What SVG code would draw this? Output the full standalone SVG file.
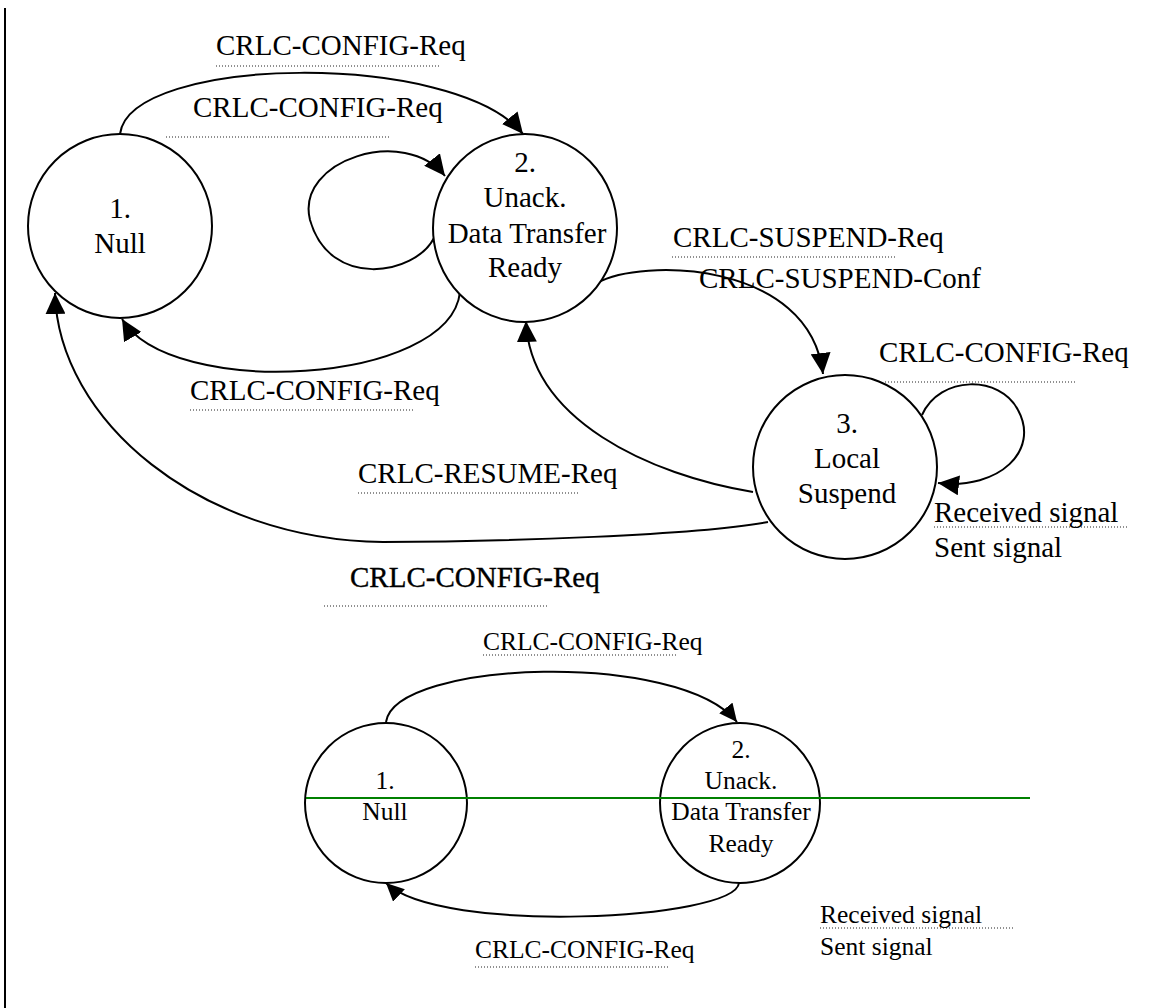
<svg xmlns="http://www.w3.org/2000/svg" width="1157" height="1008" viewBox="0 0 1157 1008">
  <defs>
    <style>
      .state { fill: #fff; stroke: #000; stroke-width: 2; }
      .edge { fill: none; stroke: #000; stroke-width: 2; }
      .t { font-family: "Liberation Serif", "Times New Roman", serif; font-size: 29px; fill: #000; }
      .ts { font-family: "Liberation Serif", "Times New Roman", serif; font-size: 25.5px; fill: #000; }
      .mid { text-anchor: middle; }
      .dots { stroke: #222; stroke-width: 1.2; stroke-dasharray: 1 2; fill: none; }
    </style>
    <marker id="arrow" markerUnits="userSpaceOnUse" markerWidth="22" markerHeight="20" refX="21" refY="10" orient="auto">
      <path d="M0,0 L21,10 L0,20 z" fill="#000"/>
    </marker>
    <marker id="arrowSmall" markerUnits="userSpaceOnUse" markerWidth="19" markerHeight="17" refX="18" refY="8.5" orient="auto">
      <path d="M0,0 L18,8.5 L0,17 z" fill="#000"/>
    </marker>
  </defs>

  <rect width="1157" height="1008" fill="#fff"/>

  <!-- page margin rule -->
  <line x1="5" y1="8" x2="5" y2="1008" stroke="#000" stroke-width="2"/>

  <!-- upper state machine: transitions -->
  <g id="connectors">
    <path class="edge" marker-end="url(#arrow)" d="M120,134 C130,55 455,50 523,134"/>
    <path class="edge" marker-end="url(#arrow)" d="M434,238 C415,275 330,290 310,220 C295,160 405,125 445,176"/>
    <path class="edge" marker-end="url(#arrow)" d="M460,292 C450,385 170,400 122,319"/>
    <path class="edge" marker-end="url(#arrow)" d="M597,283 C640,258 810,260 823,374"/>
    <path class="edge" marker-end="url(#arrow)" d="M753,492 C650,475 530,420 526,321"/>
    <path class="edge" marker-end="url(#arrow)" d="M768,522 C700,535 500,542 383,542 C200,540 58,420 55,293"/>
    <path class="edge" marker-end="url(#arrow)" d="M922,415 C940,375 1000,375 1018,410 C1040,450 1000,490 938,483"/>
    <!-- lower state machine: transitions -->
    <path class="edge" marker-end="url(#arrowSmall)" d="M386,722 C395,660 680,650 737,722"/>
    <path class="edge" marker-end="url(#arrowSmall)" d="M739,883 C735,920 440,935 386,883"/>
  </g>

  <!-- upper state machine: states -->
  <g id="state-null">
    <ellipse class="state" cx="120" cy="226" rx="92" ry="92"/>
    <text class="t mid" x="120" y="218">1.</text>
    <text class="t mid" x="120" y="253">Null</text>
  </g>
  <g id="state-unack-ready">
    <ellipse class="state" cx="525" cy="228" rx="92" ry="94"/>
    <text class="t mid" x="525" y="172">2.</text>
    <text class="t mid" x="525" y="207">Unack.</text>
    <text class="t mid" x="527" y="243">Data Transfer</text>
    <text class="t mid" x="525" y="277">Ready</text>
  </g>
  <g id="state-local-suspend">
    <ellipse class="state" cx="845" cy="467" rx="92" ry="92"/>
    <text class="t mid" x="847" y="433">3.</text>
    <text class="t mid" x="847" y="468">Local</text>
    <text class="t mid" x="847" y="503">Suspend</text>
  </g>

  <!-- upper state machine: signal labels -->
  <g id="labels">
    <text class="t" x="216" y="55">CRLC-CONFIG-Req</text>
    <line class="dots" x1="216" y1="66" x2="439" y2="66"/>
    <text class="t" x="193" y="117">CRLC-CONFIG-Req</text>
    <line class="dots" x1="166" y1="137" x2="389" y2="137"/>
    <text class="t" x="190" y="400">CRLC-CONFIG-Req</text>
    <line class="dots" x1="190" y1="410" x2="413" y2="410"/>
    <text class="t" x="358" y="483">CRLC-RESUME-Req</text>
    <line class="dots" x1="358" y1="493" x2="580" y2="493"/>
    <text class="t" x="350" y="587" stroke="#000" stroke-width="0.35">CRLC-CONFIG-Req</text>
    <line class="dots" x1="324" y1="606" x2="548" y2="606"/>
    <text class="t" x="673" y="247">CRLC-SUSPEND-Req</text>
    <line class="dots" x1="672" y1="257" x2="895" y2="257"/>
    <text class="t" x="699" y="288">CRLC-SUSPEND-Conf</text>
    <text class="t" x="879" y="362">CRLC-CONFIG-Req</text>
    <line class="dots" x1="885" y1="382" x2="1075" y2="382"/>
    <text class="t" x="934" y="522">Received signal</text>
    <line class="dots" x1="934" y1="527" x2="1128" y2="527"/>
    <text class="t" x="934" y="557">Sent signal</text>
  </g>

  <!-- lower state machine: states -->
  <g id="state-null-2">
    <ellipse class="state" cx="386" cy="803" rx="81" ry="80"/>
    <text class="ts mid" x="385" y="789">1.</text>
    <text class="ts mid" x="385" y="820">Null</text>
  </g>
  <g id="state-unack-ready-2">
    <ellipse class="state" cx="740" cy="803" rx="80" ry="80"/>
    <text class="ts mid" x="741" y="758">2.</text>
    <text class="ts mid" x="741" y="789">Unack.</text>
    <text class="ts mid" x="741" y="820">Data Transfer</text>
    <text class="ts mid" x="741" y="852">Ready</text>
  </g>

  <!-- lower state machine: reference line -->
  <line x1="306" y1="798" x2="1030" y2="798" stroke="#008000" stroke-width="2"/>

  <!-- lower state machine: signal labels -->
  <g id="labels-2">
    <text class="ts" x="483" y="650">CRLC-CONFIG-Req</text>
    <line class="dots" x1="483" y1="655" x2="677" y2="655"/>
    <text class="ts" x="475" y="958">CRLC-CONFIG-Req</text>
    <line class="dots" x1="475" y1="967" x2="670" y2="967"/>
    <text class="ts" x="820" y="923">Received signal</text>
    <line class="dots" x1="820" y1="928" x2="1013" y2="928"/>
    <text class="ts" x="820" y="955">Sent signal</text>
  </g>
</svg>
